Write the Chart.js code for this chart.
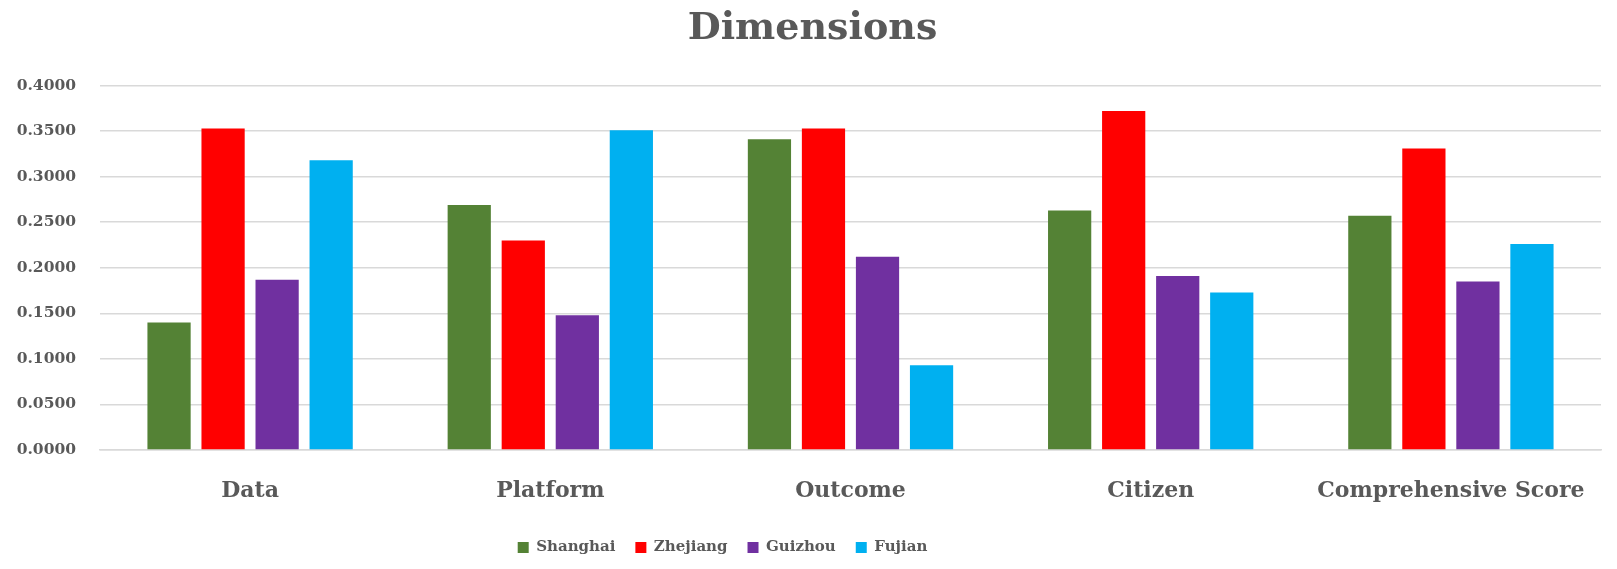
<!DOCTYPE html>
<html>
<head>
<meta charset="utf-8">
<script src="https://cdn.jsdelivr.net/npm/chart.js@4"></script>
<style>
  html, body { margin: 0; padding: 0; background: #fff; }
  #wrap { width: 1617px; height: 569px; position: relative; }
</style>
</head>
<body>
<div id="wrap"><canvas id="chart"></canvas></div>
<script>
// values
const categories = ['Data', 'Platform', 'Outcome', 'Citizen', 'Comprehensive Score']
const shanghai = [0.140, 0.269, 0.341, 0.263, 0.257]
const zhejiang = [0.353, 0.230, 0.353, 0.372, 0.331]
const guizhou = [0.187, 0.148, 0.212, 0.191, 0.185]
const fujian = [0.318, 0.351, 0.093, 0.173, 0.226]

const TEXT = '#595959'
const FONT = "'DejaVu Serif', serif"

const mkSet = (label, data, color) => ({
  label,
  data,
  backgroundColor: color,
  borderColor: color,
  borderWidth: 0,
  categoryPercentage: 0.72,
  barPercentage: 0.8,
})

// in the original the title sits a bit right of centre and the legend left of it
const nudgeBoxes = {
  id: 'nudgeBoxes',
  afterLayout: chart => {
    chart.titleBlock.left += 12
    chart.titleBlock.right += 12
    chart.legend.left -= 78
    chart.legend.right -= 78
  },
}

const chartConfig = {
  type: 'bar',
  data: {
    labels: categories,
    datasets: [
      mkSet('Shanghai', shanghai, '#548235'),
      mkSet('Zhejiang', zhejiang, '#ff0000'),
      mkSet('Guizhou', guizhou, '#7030a0'),
      mkSet('Fujian', fujian, '#00b0f0'),
    ],
  },
  options: {
    responsive: true,
    maintainAspectRatio: false,
    animation: false,
    layout: { padding: { left: 0, right: 16, top: 6, bottom: 4 } },
    plugins: {
      title: {
        display: true,
        text: 'Dimensions',
        color: TEXT,
        font: { family: FONT, size: 38, weight: 'bold' },
        padding: { top: 0, bottom: 34 },
      },
      legend: {
        position: 'bottom',
        labels: {
          color: TEXT,
          font: { family: FONT, size: 15, weight: 'bold' },
          boxWidth: 11,
          boxHeight: 11,
          padding: 20,
        },
      },
      tooltip: { enabled: false },
    },
    scales: {
      x: {
        afterFit: scale => { scale.height = 70 },
        grid: { display: false, drawTicks: false },
        border: { color: '#d9d9d9', width: 1.5 },
        ticks: {
          color: TEXT,
          font: { family: FONT, size: 22, weight: 'bold' },
          padding: 28,
          maxRotation: 0,
        },
      },
      y: {
        min: 0,
        max: 0.4,
        afterFit: scale => { scale.width = 100 },
        grid: { color: '#d9d9d9', lineWidth: 1.5, drawTicks: false },
        border: { display: false },
        ticks: {
          stepSize: 0.05,
          color: TEXT,
          font: { family: FONT, size: 15.5, weight: 'bold' },
          padding: 24,
          callback: v => v.toFixed(4),
        },
      },
    },
  },
  plugins: [nudgeBoxes],
}

new Chart(document.querySelector('#chart').getContext('2d'), chartConfig)
</script>
</body>
</html>
